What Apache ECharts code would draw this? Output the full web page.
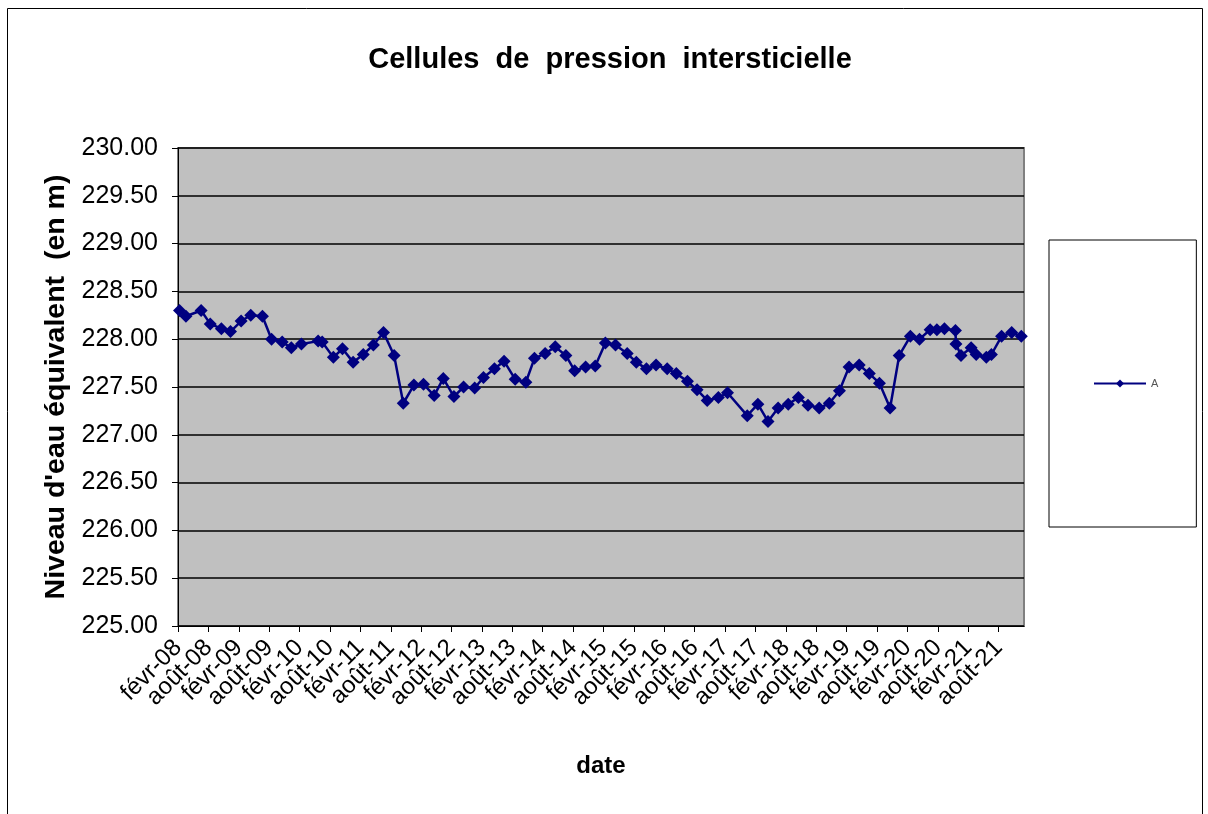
<!DOCTYPE html>
<html>
<head>
<meta charset="utf-8">
<script src="https://cdn.jsdelivr.net/npm/echarts@6/dist/echarts.min.js"></script>
<style>
  html, body { margin: 0; padding: 0; background: #fff; }
  #chart { width: 1208px; height: 814px; }
</style>
</head>
<body>
<div id="chart"></div>
<script>
// tick labels every 6 months starting févr-08
const tickLabels = [
  'févr-08', 'août-08', 'févr-09', 'août-09', 'févr-10', 'août-10', 'févr-11',
  'août-11', 'févr-12', 'août-12', 'févr-13', 'août-13', 'févr-14', 'août-14',
  'févr-15', 'août-15', 'févr-16', 'août-16', 'févr-17', 'août-17', 'févr-18',
  'août-18', 'févr-19', 'août-19', 'févr-20', 'août-20', 'févr-21', 'août-21'
];

// measurement dates and levels (m)
const dates = [
  '2008-02-10', '2008-03-18', '2008-06-18', '2008-08-12', '2008-10-18', '2008-12-12',
  '2009-02-15', '2009-04-12', '2009-06-21', '2009-08-15', '2009-10-18', '2009-12-12',
  '2010-02-12', '2010-05-21', '2010-06-15', '2010-08-21', '2010-10-15', '2010-12-18',
  '2011-02-18', '2011-04-18', '2011-06-18', '2011-08-21', '2011-10-15', '2011-12-18',
  '2012-02-15', '2012-04-18', '2012-06-12', '2012-08-15', '2012-10-12', '2012-12-18',
  '2013-02-10', '2013-04-15', '2013-06-12', '2013-08-18', '2013-10-21', '2013-12-12',
  '2014-02-15', '2014-04-15', '2014-06-18', '2014-08-10', '2014-10-15', '2014-12-12',
  '2015-02-12', '2015-04-12', '2015-06-21', '2015-08-15', '2015-10-15', '2015-12-12',
  '2016-02-18', '2016-04-12', '2016-06-18', '2016-08-15', '2016-10-15', '2016-12-21',
  '2017-02-15', '2017-06-12', '2017-08-15', '2017-10-15', '2017-12-15',
  '2018-02-15', '2018-04-15', '2018-06-12', '2018-08-18', '2018-10-18', '2018-12-18',
  '2019-02-15', '2019-04-15', '2019-06-15', '2019-08-15', '2019-10-18', '2019-12-12',
  '2020-02-18', '2020-04-12', '2020-06-15', '2020-07-25', '2020-09-10', '2020-11-15',
  '2020-11-18', '2020-12-18', '2021-02-18', '2021-03-18', '2021-05-18', '2021-06-18',
  '2021-08-18', '2021-10-18', '2021-12-15'
];
const levels = [
  228.30, 228.24, 228.30, 228.16, 228.11, 228.08,
  228.19, 228.25, 228.24, 228.00, 227.97, 227.91,
  227.95, 227.98, 227.97, 227.81, 227.90, 227.76,
  227.84, 227.94, 228.07, 227.83, 227.33, 227.52,
  227.53, 227.41, 227.59, 227.40, 227.50, 227.49,
  227.60, 227.69, 227.77, 227.58, 227.55, 227.80,
  227.85, 227.92, 227.83, 227.67, 227.71, 227.72,
  227.96, 227.94, 227.85, 227.76, 227.69, 227.73,
  227.69, 227.64, 227.56, 227.47, 227.36, 227.39,
  227.44, 227.20, 227.32, 227.14, 227.28,
  227.32, 227.39, 227.31, 227.28, 227.33, 227.46,
  227.71, 227.73, 227.64, 227.54, 227.28, 227.83,
  228.03, 228.00, 228.10, 228.10, 228.11, 228.09,
  227.95, 227.83, 227.91, 227.84, 227.81, 227.84,
  228.03, 228.07, 228.03
];

const MONTHS = 167; // axis length in months from févr-08

// months elapsed since 1 févr 2008
const toMonths = (d) => {
  const [y, m, day] = d.split('-').map(Number);
  return (y - 2008) * 12 + (m - 2) + (day - 1) / 30;
};

// one category per month, only used to place the half-year labels
const monthSlots = Array.from({ length: MONTHS + 1 }, (_, i) => String(i));

const chart = echarts.init(document.getElementById('chart'));
const font = '"Liberation Sans", Arial, sans-serif';

chart.setOption({
  backgroundColor: '#fff',
  animation: false,
  textStyle: { fontFamily: font },
  title: {
    text: 'Cellules  de  pression  intersticielle',
    left: 605,
    top: 40,
    textAlign: 'center',
    textStyle: { fontSize: 29, fontWeight: 'bold', color: '#000', fontFamily: font }
  },
  graphic: [{
    type: 'rect',
    shape: { x: 7.5, y: 8.5, width: 1195, height: 830 },
    style: { fill: 'none', stroke: '#000', lineWidth: 1 },
    silent: true
  }],
  legend: {
    left: 1049,
    top: 240,
    orient: 'vertical',
    padding: [138, 38, 138, 44],
    borderColor: '#000',
    borderWidth: 1,
    itemWidth: 52,
    itemHeight: 10,
    itemGap: 5,
    textStyle: { fontSize: 11, color: '#555', fontFamily: font },
    data: ['A']
  },
  grid: {
    left: 178,
    top: 148,
    right: 184,
    bottom: 188,
    show: true,
    backgroundColor: '#c0c0c0',
    borderColor: '#808080',
    borderWidth: 2
  },
  xAxis: [{
    // data axis
    type: 'value',
    min: 0,
    max: MONTHS,
    axisLine: { show: true, lineStyle: { color: '#000', width: 1 } },
    axisTick: { show: false },
    axisLabel: { show: false },
    splitLine: { show: false }
  }, {
    // label axis
    type: 'category',
    data: monthSlots,
    boundaryGap: false,
    position: 'bottom',
    name: 'date',
    nameLocation: 'middle',
    nameGap: 128,
    nameTextStyle: { fontSize: 24, fontWeight: 'bold', color: '#000' },
    axisLine: { show: false },
    axisTick: {
      show: true,
      length: 6,
      interval: (i) => i % 6 === 0,
      lineStyle: { color: '#000' }
    },
    axisLabel: {
      interval: 0,
      rotate: 45,
      fontSize: 24,
      color: '#000',
      margin: 18,
      formatter: (v, i) => (i % 6 === 0 ? (tickLabels[i / 6] || '') : '')
    },
    splitLine: { show: false }
  }],
  yAxis: {
    type: 'value',
    min: 225,
    max: 230,
    interval: 0.5,
    name: "Niveau d'eau équivalent  (en m)",
    nameLocation: 'middle',
    nameGap: 104,
    nameTextStyle: { fontSize: 28.5, fontWeight: 'bold', color: '#000' },
    axisLine: { show: true, lineStyle: { color: '#000', width: 1 } },
    axisTick: { show: true, length: 6, lineStyle: { color: '#000' } },
    axisLabel: {
      fontSize: 25,
      color: '#000',
      margin: 20,
      formatter: (v) => v.toFixed(2)
    },
    splitLine: { show: true, lineStyle: { color: '#000', width: 1.5 } }
  },
  series: [{
    name: 'A',
    type: 'line',
    xAxisIndex: 0,
    data: dates.map((d, i) => [toMonths(d), levels[i]]),
    symbol: 'diamond',
    symbolSize: 13,
    color: '#000080',
    lineStyle: { width: 2.5, color: '#000080' },
    itemStyle: { color: '#000080' }
  }]
});
</script>
</body>
</html>
